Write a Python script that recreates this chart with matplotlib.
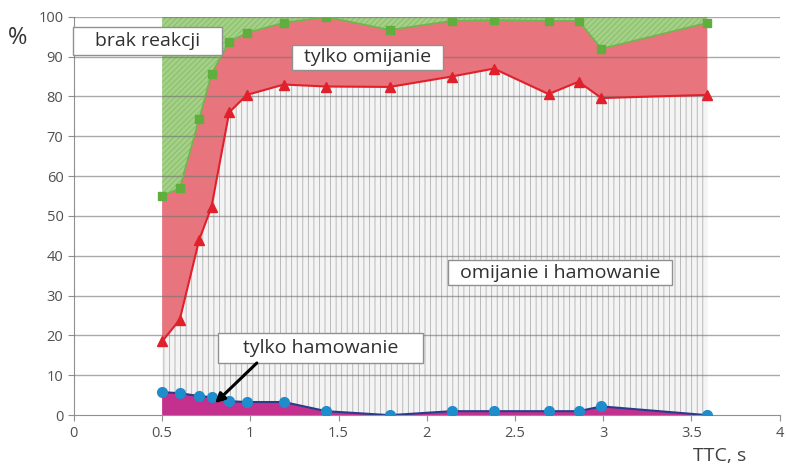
import matplotlib.pyplot as plt
import matplotlib.patches as patches

# TTC values and percentages (cumulative levels)
ttc = [0.5, 0.6, 0.71, 0.78, 0.88, 0.98, 1.19, 1.43, 1.79, 2.14, 2.38, 2.69, 2.86, 2.99, 3.59]
hamowanie = [5.8, 5.5, 4.8, 4.5, 3.5, 3.3, 3.3, 1.0, 0.0, 1.0, 1.0, 1.0, 1.0, 2.2, 0.0]
omij_ham = [18.5, 24, 44, 52.3, 76, 80.4, 83, 82.5, 82.4, 85, 87, 80.6, 83.7, 79.6, 80.4]
omijanie = [55, 57, 74.4, 85.7, 93.7, 96, 98.5, 100, 96.7, 99, 99.2, 99, 99, 92, 98.5]
top = [100] * len(ttc)

plt.rcParams['font.family'] = ['Open Sans', 'DejaVu Sans']
plt.rcParams['hatch.linewidth'] = 0.6

fig = plt.figure(figsize=(7.86, 4.67), dpi=100)
ax = fig.add_axes([0.094, 0.111, 0.898, 0.853])

# filled areas
ax.fill_between(ttc, 0, hamowanie, facecolor='#c4308e', edgecolor='none', zorder=2)
ax.fill_between(ttc, hamowanie, omij_ham, facecolor='#f4f4f4', edgecolor='#b0b0b0',
                hatch='|||', linewidth=0, zorder=1)
ax.fill_between(ttc, omij_ham, omijanie, facecolor='#e8747e', edgecolor='none', zorder=2)
ax.fill_between(ttc, omijanie, top, facecolor='#a4d088', edgecolor='#84bc64',
                hatch='//////', linewidth=0, zorder=1)

# grid lines on top of fills
for v in range(10, 101, 10):
    ax.axhline(v, color='#707070', lw=1.0, alpha=0.6, zorder=3)

# lines with markers
ax.plot(ttc, omijanie, color='#6cb84a', lw=1.2, marker='s', ms=6, mfc='#5fae3e', mec='#5fae3e', zorder=5)
ax.plot(ttc, omij_ham, color='#e0202a', lw=1.5, marker='^', ms=7, mfc='#e0202a', mec='#e0202a', zorder=5)
ax.plot(ttc, hamowanie, color='#2a3c8c', lw=1.5, marker='o', ms=7, mfc='#1f8ccc', mec='#1f8ccc', zorder=5)

ax.set_xlim(0, 4)
ax.set_ylim(0, 100)
ax.set_xticks([0, 0.5, 1, 1.5, 2, 2.5, 3, 3.5, 4])
ax.set_xticklabels(['0', '0.5', '1', '1.5', '2', '2.5', '3', '3.5', '4'])
ax.set_yticks(range(0, 101, 10))
for s in ['top', 'right']:
    ax.spines[s].set_visible(False)
for s in ['left', 'bottom']:
    ax.spines[s].set_color('#909090')
ax.tick_params(colors='#909090', labelcolor='#505050', labelsize=10.5, length=4)
ax.patch.set_alpha(0)

fig.text(0.010, 0.905, '%', fontsize=17, color='#333333')
fig.text(0.882, 0.012, 'TTC, s', fontsize=14, color='#404040')

# label boxes: (text, x0, x1, y0, y1)
labels = [
    ('brak reakcji', -0.006, 0.839, 90.45, 97.5),
    ('tylko omijanie', 1.235, 2.09, 86.7, 93.0),
    ('omijanie i hamowanie', 2.12, 3.39, 32.7, 38.9),
    ('tylko hamowanie', 0.816, 1.977, 13.1, 20.6),
]
for txt, x0, x1, y0, y1 in labels:
    ax.add_patch(patches.Rectangle((x0, y0), x1 - x0, y1 - y0, facecolor='white',
                                   edgecolor='#909090', lw=1, zorder=6, clip_on=False))
    ax.text((x0 + x1) / 2, (y0 + y1) / 2, txt, fontsize=14, color='#303030',
            ha='center', va='center', zorder=7)

ax.annotate('', xy=(0.80, 3.0), xytext=(1.037, 13.1), zorder=7,
            arrowprops=dict(arrowstyle='-|>', color='black', lw=2.2, mutation_scale=14,
                            shrinkA=0, shrinkB=0))

fig.savefig('out.png', dpi=100)
